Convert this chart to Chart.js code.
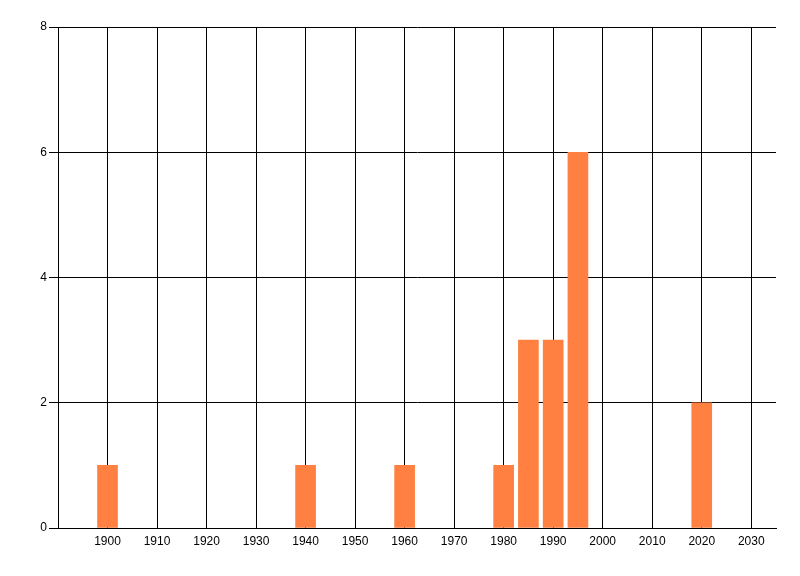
<!DOCTYPE html>
<html>
<head>
<meta charset="utf-8">
<script src="https://cdn.jsdelivr.net/npm/chart.js@4"></script>
<style>
  html, body { margin: 0; padding: 0; background: #fff; }
  #wrap { width: 800px; height: 576px; }
</style>
</head>
<body>
<div id="wrap"><canvas id="chart" width="800" height="576"></canvas></div>
<script>
const years = [1900, 1940, 1960, 1980, 1985, 1990, 1995, 2020];
const counts = [1, 1, 1, 1, 3, 3, 6, 2];
const xTicks = [1900, 1910, 1920, 1930, 1940, 1950, 1960, 1970, 1980, 1990, 2000, 2010, 2020, 2030];
const yTicks = [0, 2, 4, 6, 8];

const labelFont = { family: "'Liberation Sans Narrow', 'Liberation Sans', sans-serif", size: 12 };

new Chart(document.getElementById('chart'), {
    type: 'bar',
    data: {
        datasets: [{
            data: years.map((y, i) => ({ x: y, y: counts[i] })),
            backgroundColor: '#FF8040',
            borderWidth: 0,
            barThickness: 20
        }]
    },
    options: {
        responsive: false,
        animation: false,
        layout: { padding: { top: 27, right: 24, left: 0, bottom: 0 } },
        plugins: { legend: { display: false }, tooltip: { enabled: false } },
        scales: {
            x: {
                type: 'linear',
                min: 1890, max: 2035,
                offset: false,
                afterBuildTicks: s => { s.ticks = xTicks.map(v => ({ value: v })); },
                afterFit: s => { s.height = 48; },
                grid: { color: '#000', lineWidth: 1, drawTicks: false, offset: false },
                border: { display: true, color: '#000', width: 1 },
                ticks: { color: '#000', font: labelFont, padding: 6, maxRotation: 0, autoSkip: false,
                         callback: v => String(v) }
            },
            y: {
                min: 0, max: 8,
                afterBuildTicks: s => { s.ticks = yTicks.map(v => ({ value: v })); },
                afterFit: s => { s.width = 58; },
                grid: { color: '#000', lineWidth: 1, tickLength: 9 },
                border: { display: true, color: '#000', width: 1 },
                ticks: { color: '#000', font: labelFont, padding: 2 }
            }
        }
    }
});
</script>
</body>
</html>
